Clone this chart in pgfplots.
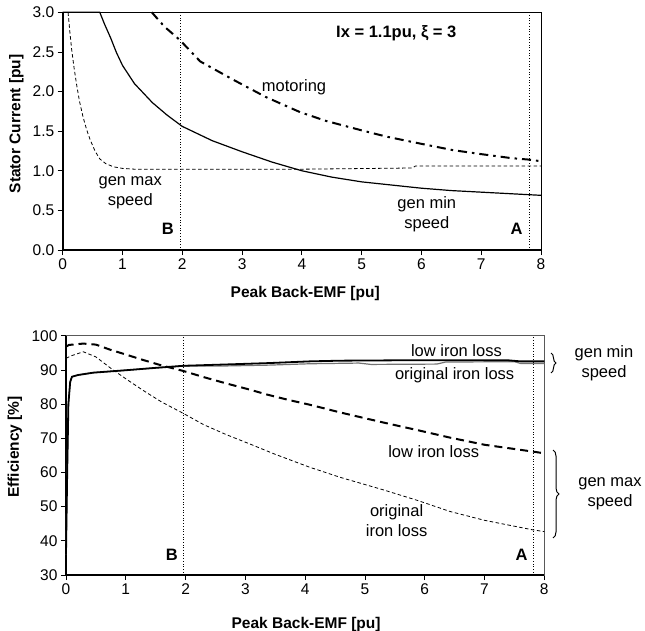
\documentclass[border=0pt]{standalone}
\usepackage{fontspec}
\setmainfont{Liberation Sans}
\usepackage{pgfplots}
\pgfplotsset{compat=1.18}
\usetikzlibrary{decorations.pathreplacing}

\newcommand{\tickfont}{\fontsize{15.5bp}{18bp}\selectfont}
\newcommand{\labelfont}{\fontsize{15.5bp}{18bp}\selectfont\bfseries}
\newcommand{\notefont}{\fontsize{16.5bp}{20bp}\selectfont}

% Stator current vs. peak back-EMF
\pgfplotstableread{
x     y
0.00  3.00
0.62  3.00
0.70  2.85
0.80  2.68
0.90  2.49
1.00  2.33
1.20  2.10
1.50  1.86
1.75  1.70
2.00  1.56
2.50  1.38
3.00  1.24
3.50  1.11
4.00  1.00
4.50  0.92
5.00  0.86
5.50  0.82
6.00  0.78
6.50  0.75
7.00  0.73
7.50  0.71
8.00  0.69
}\genmin

\pgfplotstableread{
x     y
0.09  3.00
0.12  2.75
0.15  2.53
0.19  2.30
0.23  2.10
0.28  1.88
0.34  1.68
0.40  1.52
0.46  1.39
0.54  1.25
0.62  1.15
0.72  1.09
0.85  1.05
1.00  1.03
1.20  1.02
2.00  1.02
4.00  1.02
5.85  1.035
5.90  1.06
8.00  1.06
}\genmax

\pgfplotstableread{
x     y
1.49  3.00
1.70  2.82
1.96  2.65
2.30  2.38
2.85  2.15
3.40  1.93
3.97  1.74
4.40  1.63
5.00  1.51
5.42  1.43
6.00  1.34
6.53  1.26
7.00  1.21
7.50  1.16
7.81  1.14
8.00  1.12
}\motoring

% Efficiency vs. peak back-EMF
\pgfplotstableread{
x     y
0.00  36.0
0.02  60.0
0.04  80.0
0.07  86.5
0.10  88.0
0.20  88.5
0.46  89.2
1.00  89.9
1.50  90.6
1.96  91.2
2.69  91.6
3.40  92.0
4.08  92.5
4.60  92.7
5.50  92.8
6.50  92.8
7.40  92.8
7.60  92.5
8.00  92.5
}\minlow

\pgfplotstableread{
x     y
0.00  36.0
0.02  60.0
0.04  80.0
0.07  86.5
0.10  88.0
0.20  88.5
0.46  89.2
1.00  89.9
1.50  90.6
1.96  91.1
2.50  91.1
3.40  91.4
4.08  91.8
4.90  92.0
5.10  91.6
6.20  91.7
6.35  92.3
7.50  92.4
7.60  91.9
8.00  91.9
}\minorig

\pgfplotstableread{
x     y
0.00  96.8
0.05  97.3
0.29  97.7
0.50  97.4
0.74  95.9
1.00  94.5
1.29  92.9
1.60  91.3
1.96  89.7
2.30  87.9
2.69  86.0
3.08  84.2
3.36  82.8
3.70  81.3
4.08  79.8
4.60  77.5
5.31  74.6
5.90  72.3
6.42  70.2
7.00  68.1
7.81  66.1
8.00  65.6
}\maxlow

\pgfplotstableread{
x     y
0.00  93.4
0.10  94.2
0.29  95.3
0.50  93.8
0.74  90.6
1.00  87.4
1.29  84.0
1.60  80.6
1.96  77.3
2.30  74.0
2.69  71.0
3.08  68.3
3.50  65.3
4.08  61.5
4.60  58.5
5.31  54.9
5.90  51.7
6.42  48.6
7.00  46.0
7.81  43.2
8.00  42.7
}\maxorig

\begin{document}
\begin{tikzpicture}
\path[use as bounding box] (0bp,0bp) rectangle (645bp,-631bp);

\pgfplotsset{
  every axis/.append style={
    scale only axis,
    clip=false,
    xmin=0, xmax=8,
    xtick={0,...,8},
    tick align=outside,
    xtick pos=left, ytick pos=left,
    major tick length=5bp,
    tick style={black, line width=0.8bp},
    ticklabel style={font=\tickfont},
    /pgf/number format/assume math mode=true,
  },
}

% ---- stator current ----
\begin{axis}[
  at={(62.7bp,-250bp)}, anchor=south west,
  width=478.3bp, height=237.7bp,
  ymin=0, ymax=3,
  ytick={0,0.5,...,3},
  yticklabel style={/pgf/number format/.cd, fixed, fixed zerofill, precision=1},
  axis line style={black, line width=0.9bp},
  xlabel={Peak Back-EMF [pu]},
  ylabel={Stator Current [pu]},
  every axis x label/.style={at={(axis description cs:0.507,-0.181)},anchor=center,font=\labelfont},
  every axis y label/.style={at={(axis description cs:-0.097,0.53)},rotate=90,anchor=center,font=\labelfont},
]
\draw[black, line width=1.6bp] (rel axis cs:0,0) -- (rel axis cs:0,1);
\draw[black, line width=1.2bp] (rel axis cs:0,0) -- (rel axis cs:1,0);
\addplot[black, line width=0.7bp, dotted] coordinates {(1.96,0) (1.96,3)};
\addplot[black, line width=0.7bp, dotted] coordinates {(7.81,0) (7.81,3)};
\addplot[black, line width=1.2bp] table {\genmin};
\addplot[black, line width=0.8bp, dash pattern=on 3.5bp off 2.5bp] table {\genmax};
\addplot[black, line width=2bp, dash pattern=on 9bp off 5bp on 2.5bp off 5bp] table {\motoring};
\node[font=\notefont\bfseries] at (axis cs:5.58,2.73) {Ix = 1.1pu, ξ = 3};
\node[font=\notefont] at (axis cs:3.87,2.06) {motoring};
\node[font=\notefont, align=center] at (axis cs:1.13,0.72) {gen max\\speed};
\node[font=\notefont, align=center] at (axis cs:6.09,0.45) {gen min\\speed};
\node[font=\notefont\bfseries] at (axis cs:1.76,0.27) {B};
\node[font=\notefont\bfseries] at (axis cs:7.59,0.27) {A};
\end{axis}

% ---- efficiency ----
\begin{axis}[
  at={(66bp,-575bp)}, anchor=south west,
  width=478.3bp, height=239.3bp,
  ymin=30, ymax=100,
  ytick={30,40,...,100},
  axis line style={black!65, line width=0.9bp},
  xlabel={Peak Back-EMF [pu]},
  ylabel={Efficiency [\%]},
  every axis x label/.style={at={(axis description cs:0.502,-0.205)},anchor=center,font=\labelfont},
  every axis y label/.style={at={(axis description cs:-0.107,0.535)},rotate=90,anchor=center,font=\labelfont},
]
\draw[black, line width=1.6bp] (rel axis cs:0,0) -- (rel axis cs:0,1);
\draw[black, line width=1.2bp] (rel axis cs:0,0) -- (rel axis cs:1,0);
\addplot[black, line width=0.7bp, dotted] coordinates {(1.96,30) (1.96,100)};
\addplot[black, line width=0.7bp, dotted] coordinates {(7.82,30) (7.82,100)};
\addplot[black!55, line width=1.2bp] table {\minorig};
\addplot[black, line width=1.8bp] table {\minlow};
\addplot[black, line width=2bp, dash pattern=on 8bp off 5bp] table {\maxlow};
\addplot[black, line width=0.8bp, dash pattern=on 3.5bp off 2.5bp] table {\maxorig};
\node[font=\notefont] at (axis cs:6.53,95.6) {low iron loss};
\node[font=\notefont] at (axis cs:6.50,88.5) {original iron loss};
\node[font=\notefont] at (axis cs:6.15,66.1) {low iron loss};
\node[font=\notefont, align=center] at (axis cs:5.53,46.0) {original\\iron loss};
\node[font=\notefont\bfseries] at (axis cs:1.77,35.8) {B};
\node[font=\notefont\bfseries] at (axis cs:7.62,35.8) {A};
\end{axis}

% braces grouping the efficiency curves
\draw[black, line width=1bp, decorate, decoration={brace, amplitude=5bp}] (551bp,-353bp) -- (551bp,-373bp);
\draw[black, line width=1bp, decorate, decoration={brace, amplitude=6bp}] (553bp,-450bp) -- (553bp,-538bp);
\node[font=\notefont, align=center] at (604bp,-363bp) {gen min\\speed};
\node[font=\notefont, align=center] at (610bp,-494bp) {gen max\\speed};
\end{tikzpicture}
\end{document}
